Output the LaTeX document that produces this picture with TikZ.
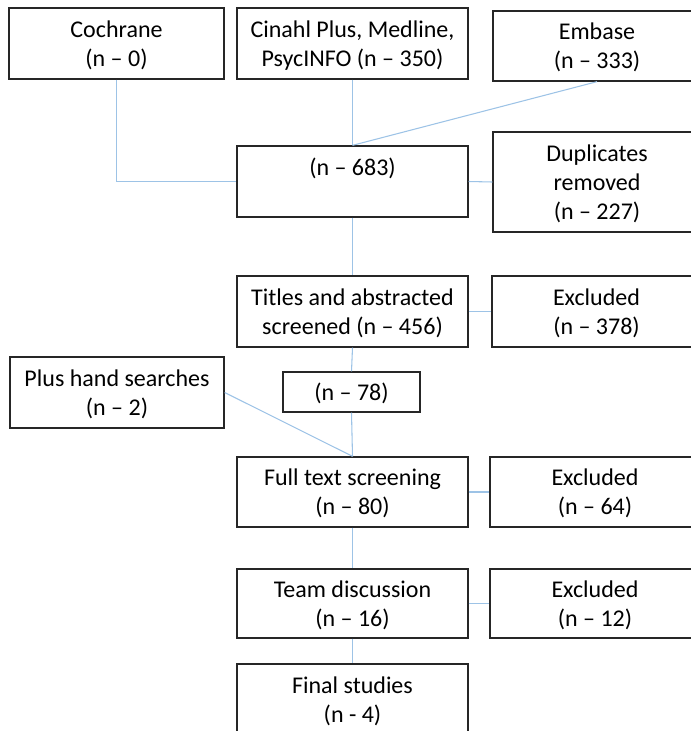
\documentclass[tikz,border=0pt]{standalone}
\usepackage{fontspec}
\setmainfont{Carlito}
\begin{document}
\begin{tikzpicture}[x=0.75pt,y=-0.75pt,
    kotak/.style={draw=black!85,line width=1pt,align=center,inner sep=0pt,text depth=0pt,
      font=\fontsize{18}{21.75}\selectfont},
    garis/.style={draw={rgb,255:red,157;green,195;blue,230},line width=0.8pt}]

      % satuan piksel
      \def\px{0.75pt}
      \clip (0,0) rectangle (691,731);

      % Sumber pencarian
      \node[kotak,minimum width=215*\px,minimum height=71*\px] (cochrane) at (116.5,43.5) {Cochrane\\(n -- 0)};
      \node[kotak,minimum width=231*\px,minimum height=71*\px] (sumber) at (352.5,43.5) {Cinahl Plus, Medline,\\PsycINFO (n -- 350)};
      \node[kotak,minimum width=208*\px,minimum height=70*\px] (embase) at (597,46) {Embase\\(n -- 333)};

      % Kolom tengah
      \node[kotak,minimum width=231*\px,minimum height=71*\px] (gabung) at (352.5,181.5) {(n -- 683)\\ \mbox{}};
      \node[kotak,minimum width=231*\px,minimum height=71*\px] (judul) at (352.5,311.5) {Titles and abstracted\\screened (n -- 456)};
      \node[kotak,minimum width=137*\px,minimum height=40*\px] (sisa) at (351.5,392) {(n -- 78)};
      \node[kotak,minimum width=231*\px,minimum height=70*\px] (penuh) at (352.5,492) {Full text screening\\(n -- 80)};
      \node[kotak,minimum width=231*\px,minimum height=69*\px] (tim) at (352.5,603.5) {Team discussion\\(n -- 16)};
      \node[kotak,minimum width=231*\px,minimum height=72*\px] (akhir) at (352.5,700) {Final studies\\(n - 4)};

      % Kolom kanan dan kiri
      \node[kotak,minimum width=208*\px,minimum height=100*\px] (duplikat) at (597,182) {Duplicates\\removed\\(n -- 227)};
      \node[kotak,minimum width=209*\px,minimum height=71*\px] (keluar1) at (596.5,311.5) {Excluded\\(n -- 378)};
      \node[kotak,minimum width=210*\px,minimum height=70*\px] (keluar2) at (595,492) {Excluded\\(n -- 64)};
      \node[kotak,minimum width=210*\px,minimum height=69*\px] (keluar3) at (595,603.5) {Excluded\\(n -- 12)};
      \node[kotak,minimum width=214*\px,minimum height=71*\px] (tangan) at (117,392.5) {Plus hand searches\\(n -- 2)};

      % Garis penghubung
      \draw[garis] (cochrane.south) |- (gabung.west);
      \draw[garis] (sumber.south) -- (gabung.north);
      \draw[garis] (embase.south) -- (gabung.north);
      \draw[garis] (gabung.east) -- (duplikat.west);
      \draw[garis] (gabung.south) -- (judul.north);
      \draw[garis] (judul.east) -- (keluar1.west);
      \draw[garis] (judul.south) -- (sisa.north);
      \draw[garis] (sisa.south) -- (penuh.north);
      \draw[garis] (tangan.east) -- (penuh.north);
      \draw[garis] (penuh.east) -- (keluar2.west);
      \draw[garis] (penuh.south) -- (tim.north);
      \draw[garis] (tim.east) -- (keluar3.west);
      \draw[garis] (tim.south) -- (akhir.north);
    \end{tikzpicture}
\end{document}
